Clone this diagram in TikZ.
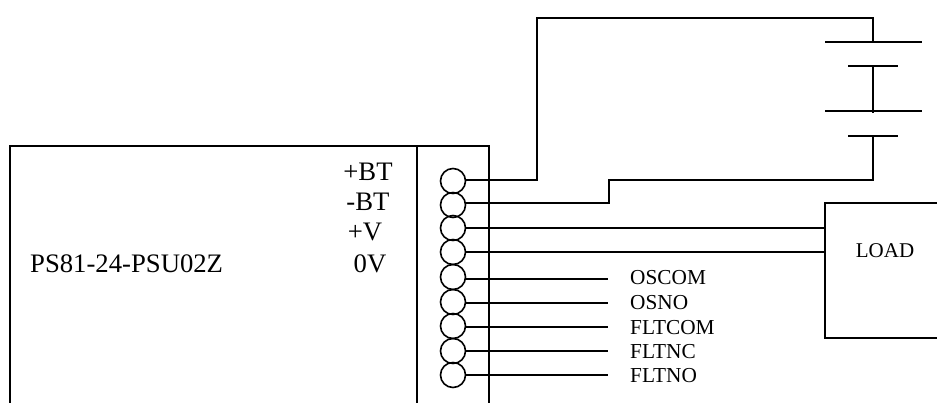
\documentclass[tikz,border=0pt]{standalone}
\usepackage{fontspec}
\setmainfont{Liberation Serif}
\tikzset{
  wire/.style={line width=1.6pt},
  terminal/.style={circle,draw,line width=1.6pt,minimum size=25pt,inner sep=0pt},
  biglabel/.style={font=\fontsize{26.7}{30}\selectfont,inner sep=0pt},
  smalllabel/.style={font=\fontsize{21.3}{24}\selectfont,inner sep=0pt,anchor=west}
}
\begin{document}
\begin{tikzpicture}[x=1pt,y=-1pt]
  \useasboundingbox (0,0) rectangle (937,403);
  % Supply box
  \coordinate (BoxBL) at (10,403);
  \coordinate (BoxTR) at (489,146);
  \coordinate (BoxBR) at (489,403);
  \coordinate (DivT)  at (417,146);
  \coordinate (DivB)  at (417,403);
  \draw[wire] (BoxBL) |- (BoxTR) -- (BoxBR);
  \draw[wire] (DivT) -- (DivB);
  \node[biglabel,anchor=west] (Name) at (30,264) {PS81-24-PSU02Z};
  \node[biglabel] (BTp) at (368,172) {+BT};
  \node[biglabel] (BTn) at (368,202) {-BT};
  \node[biglabel] (Vp)  at (365,232) {+V};
  \node[biglabel] (V0)  at (370,264) {0V};
  % Terminals
  \node[terminal] (T1) at (453,181) {};
  \node[terminal] (T2) at (453,205) {};
  \node[terminal] (T3) at (453,228) {};
  \node[terminal] (T4) at (453,252) {};
  \node[terminal] (T5) at (453,277) {};
  \node[terminal] (T6) at (453,302) {};
  \node[terminal] (T7) at (453,326) {};
  \node[terminal] (T8) at (453,351) {};
  \node[terminal] (T9) at (453,375) {};
  % Battery
  \coordinate (P1L) at (825,42);  \coordinate (P1R) at (922,42);  \coordinate (P1) at (873,42);
  \coordinate (P2L) at (848,66);  \coordinate (P2R) at (898,66);  \coordinate (P2) at (873,66);
  \coordinate (P3L) at (825,111); \coordinate (P3R) at (922,111); \coordinate (P3) at (873,113);
  \coordinate (P4L) at (848,136); \coordinate (P4R) at (898,136); \coordinate (P4) at (873,136);
  \draw[wire] (P1L) -- (P1R);
  \draw[wire] (P2L) -- (P2R);
  \draw[wire] (P3L) -- (P3R);
  \draw[wire] (P4L) -- (P4R);
  \draw[wire] (P2) -- (P3);
  \coordinate (W1) at (537,180);
  \coordinate (W2) at (609,203);
  \draw[wire] (W1 -| T1.east) -- (W1) |- (873,18) -- (P1);
  \draw[wire] (W2 -| T2.east) -- (W2) |- (873,180) -- (P4);
  % Load
  \coordinate (LoadBL) at (825,338);
  \coordinate (LoadBR) at (937,338);
  \coordinate (LoadTR) at (937,203);
  \coordinate (W3) at (825,228);
  \coordinate (W4) at (825,252);
  \draw[wire] (LoadTR) -| (LoadBL) -- (LoadBR);
  \node[font=\fontsize{21}{24}\selectfont,inner sep=0pt] (Load) at (885,251) {LOAD};
  \draw[wire] (W3 -| T3.east) -- (W3);
  \draw[wire] (W4 -| T4.east) -- (W4);
  % Signals
  \coordinate (W5) at (608,279);
  \coordinate (W6) at (608,303);
  \coordinate (W7) at (608,327);
  \coordinate (W8) at (608,351);
  \coordinate (W9) at (608,375);
  \node[smalllabel] (OSCOM)  at (630,278) {OSCOM};
  \node[smalllabel] (OSNO)   at (630,303) {OSNO};
  \node[smalllabel] (FLTCOM) at (630,328) {FLTCOM};
  \node[smalllabel] (FLTNC)  at (630,352) {FLTNC};
  \node[smalllabel] (FLTNO)  at (630,376) {FLTNO};
  \draw[wire] (W5 -| T5.east) -- (W5);
  \draw[wire] (W6 -| T6.east) -- (W6);
  \draw[wire] (W7 -| T7.east) -- (W7);
  \draw[wire] (W8 -| T8.east) -- (W8);
  \draw[wire] (W9 -| T9.east) -- (W9);
\end{tikzpicture}
\end{document}
